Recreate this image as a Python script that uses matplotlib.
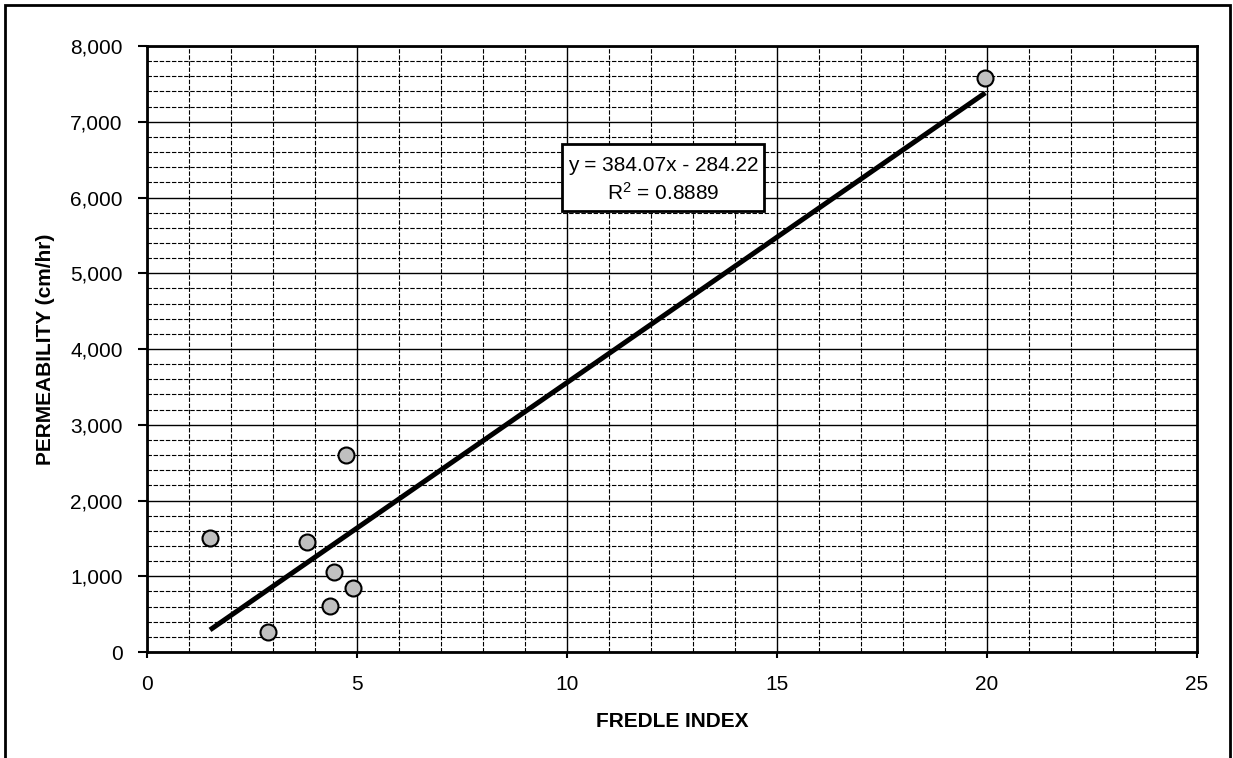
import numpy as np
import matplotlib.pyplot as plt
from matplotlib.ticker import MultipleLocator, FuncFormatter
from matplotlib.patches import Rectangle

plt.rcParams['font.family'] = ['Liberation Sans', 'DejaVu Sans']

# data
fredle_index = [1.5, 2.87, 3.82, 4.35, 4.46, 4.74, 4.9, 19.96]
permeability = [1510, 268, 1448, 611, 1060, 2600, 849, 7578]

# trend line from the chart's equation
slope = 384.07
intercept = -284.22
r_squared = 0.8889

fig = plt.figure(figsize=(12.33, 7.58), dpi=100)
ax = fig.add_axes([147 / 1233, 1 - 652 / 758, 1050 / 1233, 606 / 758])

# outer frame round the whole chart
fig.patches.append(Rectangle((5 / 1233, -0.05), 1225 / 1233, 1.05 - 5 / 758,
                             transform=fig.transFigure, fill=False,
                             edgecolor='black', linewidth=2))

ax.set_xlim(0, 25)
ax.set_ylim(0, 8000)
ax.xaxis.set_major_locator(MultipleLocator(5))
ax.xaxis.set_minor_locator(MultipleLocator(1))
ax.yaxis.set_major_locator(MultipleLocator(1000))
ax.yaxis.set_minor_locator(MultipleLocator(200))
ax.yaxis.set_major_formatter(FuncFormatter(lambda v, p: f"{v:,.0f}"))

ax.grid(which='major', color='black', linewidth=1, linestyle='-')
ax.grid(which='minor', color='black', linewidth=0.8, linestyle=(0, (4, 1.5)))
ax.set_axisbelow(True)

ax.tick_params(axis='y', which='major', direction='out', length=6.5, width=1.5,
               labelsize=15, pad=11)
ax.tick_params(axis='x', which='major', direction='out', length=4.5, width=1.5,
               labelsize=15, pad=12)
ax.tick_params(which='minor', length=0)
for s in ax.spines.values():
    s.set_linewidth(2)

xs = np.array([min(fredle_index), max(fredle_index)])
ax.plot(xs, slope * xs + intercept, color='black', linewidth=3.6, zorder=3,
        solid_capstyle='butt')
ax.plot(fredle_index, permeability, 'o', markersize=11.5,
        markerfacecolor='#c0c0c0', markeredgecolor='black',
        markeredgewidth=1.5, zorder=4)

ax.set_xlabel('FREDLE INDEX', fontsize=15, fontweight='bold', labelpad=13)
ax.set_ylabel('PERMEABILITY (cm/hr)', fontsize=15, fontweight='bold',
              labelpad=11)

# equation label box (axes fraction)
ax.add_patch(Rectangle((0.3952, 0.7277), 0.1924, 0.1106, transform=ax.transAxes,
                       facecolor='white', edgecolor='black', linewidth=2,
                       zorder=5))
ax.text(0.4914, 0.8036, f"y = {slope}x - {abs(intercept)}", transform=ax.transAxes,
        ha='center', va='center', fontsize=15, zorder=6)
ax.text(0.4914, 0.7574, f"$\\mathregular{{R^2}}$ = {r_squared}", transform=ax.transAxes,
        ha='center', va='center', fontsize=15, zorder=6)

fig.savefig('out.png', dpi=100)
plt.close(fig)
